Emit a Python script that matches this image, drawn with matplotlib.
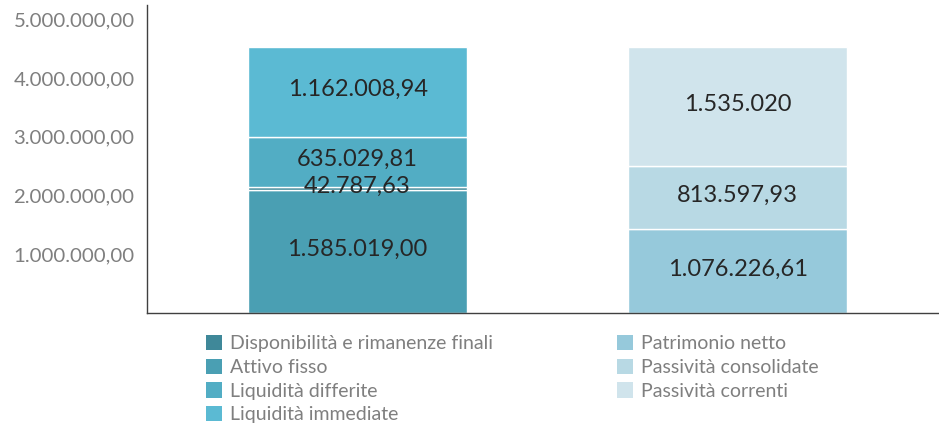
import matplotlib
matplotlib.use("Agg")
import matplotlib.pyplot as plt
from matplotlib.patches import Patch

plt.rcParams['font.family'] = ['Lato', 'DejaVu Sans']

# Data
bars = ["Attivo", "Passivo"]
left_labels = ["Attivo fisso", "Disponibilità e rimanenze finali", "Liquidità differite", "Liquidità immediate"]
left_values = [1585019.00, 42787.63, 635029.81, 1162008.94]
left_texts = ["1.585.019,00", "42.787,63", "635.029,81", "1.162.008,94"]
left_colors = ["#4a9fb3", "#3f8899", "#52adc4", "#5bbad3"]

right_labels = ["Patrimonio netto", "Passività consolidate", "Passività correnti"]
right_values = [1076226.61, 813597.93, 1535020.0]
right_texts = ["1.076.226,61", "813.597,93", "1.535.020"]
right_colors = ["#96c9db", "#b8d9e4", "#d0e4ec"]

legend_left = ["Disponibilità e rimanenze finali", "Attivo fisso", "Liquidità differite", "Liquidità immediate"]
legend_left_colors = ["#3f8899", "#4a9fb3", "#52adc4", "#5bbad3"]
legend_right = ["Patrimonio netto", "Passività consolidate", "Passività correnti"]
legend_right_colors = ["#96c9db", "#b8d9e4", "#d0e4ec"]

tick_values = [1000000, 2000000, 3000000, 4000000, 5000000]
tick_labels = ["1.000.000,00", "2.000.000,00", "3.000.000,00", "4.000.000,00", "5.000.000,00"]

fig = plt.figure(figsize=(9.39, 4.30), dpi=100)
ax = fig.add_axes([147/939, 117/430, 1 - 147/939, 308/430])

width = 0.576

def stack(x, values, texts, colors):
    bottom = 0
    for v, t, c in zip(values, texts, colors):
        ax.bar(x, v, width, bottom=bottom, color=c, edgecolor="white", linewidth=1)
        ax.text(x, bottom + v / 2 + 30000, t, ha="center", va="center", fontsize=17, color="#262626")
        bottom += v

stack(0, left_values, left_texts, left_colors)
stack(1, right_values, right_texts, right_colors)

ax.set_xlim(-0.554, 1.530)
ax.set_ylim(0, 3.965e6)
ax.set_xticks([])
ax.set_yticks([])
for s in ["top", "right"]:
    ax.spines[s].set_visible(False)
ax.spines["left"].set_color("#404040")
ax.spines["bottom"].set_color("#404040")
ax.spines["left"].set_linewidth(1)
ax.spines["bottom"].set_linewidth(1)

ax2 = ax.twinx()
ax2.set_ylim(0, 5.24e6)
ax2.yaxis.set_ticks_position("left")
ax2.set_yticks(tick_values)
ax2.set_yticklabels(tick_labels, fontsize=14.7, color="#7f7f7f")
ax2.tick_params(axis="y", length=0, pad=9)
for s in ["top", "right", "bottom", "left"]:
    ax2.spines[s].set_visible(False)

h1 = [Patch(facecolor=c, edgecolor="none") for c in legend_left_colors]
h2 = [Patch(facecolor=c, edgecolor="none") for c in legend_right_colors]
common = dict(loc="upper left", frameon=False, fontsize=14, labelcolor="#7f7f7f",
              handlelength=0.82, handleheight=0.82, handletextpad=0.42,
              labelspacing=0.33, borderaxespad=0, borderpad=0)
leg1 = fig.legend(h1, legend_left, bbox_to_anchor=(206/939, 1 - 335/430), **common)
leg2 = fig.legend(h2, legend_right, bbox_to_anchor=(617/939, 1 - 335/430), **common)

fig.savefig("out.png", dpi=100)
